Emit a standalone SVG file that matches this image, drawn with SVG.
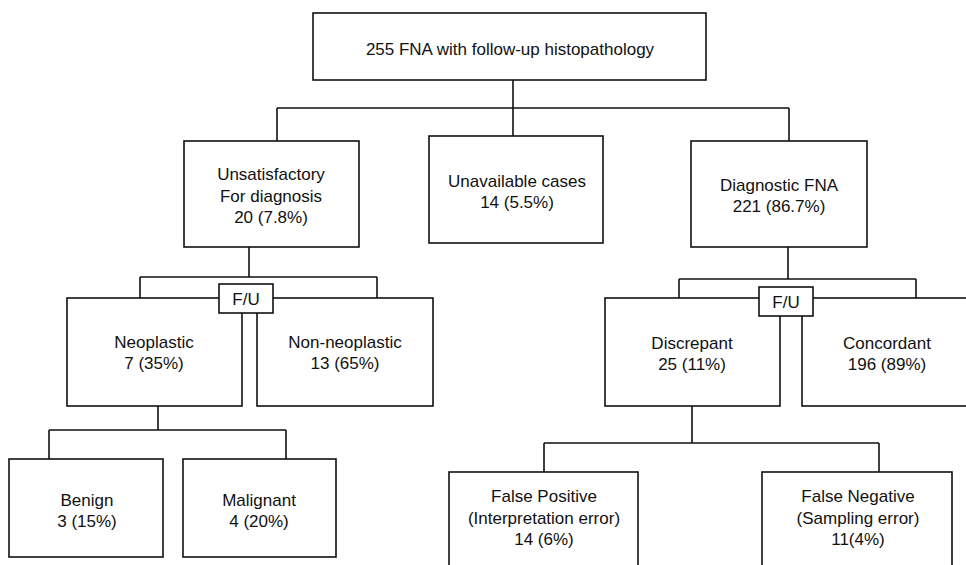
<svg xmlns="http://www.w3.org/2000/svg" width="966" height="565" viewBox="0 0 966 565">
<style>
  .box { fill: #ffffff; stroke: #111111; stroke-width: 1.6; }
  .conn { fill: none; stroke: #111111; stroke-width: 1.6; }
  text { font-family: "Liberation Sans", Arial, sans-serif; font-size: 17px; fill: #111111; text-anchor: middle; }
</style>
<rect x="0" y="0" width="966" height="565" fill="#ffffff"/>
<g id="connectors">
  <path class="conn" d="M513,80 V108 M277,108 H789 M277,108 V141 M513,108 V136 M789,108 V141"/>
  <path class="conn" d="M249,247 V277 M140,277 H377 M140,277 V298 M377,277 V298"/>
  <path class="conn" d="M788,247 V279 M679,279 H916 M679,279 V298 M916,279 V298"/>
  <path class="conn" d="M158,406 V430 M49,430 H286 M49,430 V459 M286,430 V459"/>
  <path class="conn" d="M692,406 V443 M544,443 H879 M544,443 V472 M879,443 V472"/>
</g>
<g id="root">
  <rect class="box" x="313" y="13" width="393" height="67"/>
  <text x="510" y="55">255 FNA with follow-up histopathology</text>
</g>
<g id="unsatisfactory">
  <rect class="box" x="184" y="141" width="175" height="106"/>
  <text x="271" y="180">Unsatisfactory</text>
  <text x="271" y="202">For diagnosis</text>
  <text x="271" y="223">20 (7.8%)</text>
</g>
<g id="unavailable">
  <rect class="box" x="429" y="136" width="174" height="107"/>
  <text x="517" y="187">Unavailable cases</text>
  <text x="517" y="208">14 (5.5%)</text>
</g>
<g id="diagnostic">
  <rect class="box" x="691" y="141" width="176" height="106"/>
  <text x="779" y="191">Diagnostic FNA</text>
  <text x="779" y="212">221 (86.7%)</text>
</g>
<g id="neoplastic">
  <rect class="box" x="67" y="298" width="175" height="108"/>
  <text x="154" y="348">Neoplastic</text>
  <text x="154" y="369">7 (35%)</text>
</g>
<g id="non-neoplastic">
  <rect class="box" x="257" y="298" width="176" height="108"/>
  <text x="345" y="348">Non-neoplastic</text>
  <text x="345" y="369">13 (65%)</text>
</g>
<g id="discrepant">
  <rect class="box" x="605" y="298" width="175" height="108"/>
  <text x="692" y="349">Discrepant</text>
  <text x="692" y="370">25 (11%)</text>
</g>
<g id="concordant">
  <rect class="box" x="802" y="298" width="175" height="108"/>
  <text x="887" y="349">Concordant</text>
  <text x="887" y="370">196 (89%)</text>
</g>
<g id="fu-left">
  <rect class="box" x="219" y="284" width="54" height="29"/>
  <text x="246" y="305">F/U</text>
</g>
<g id="fu-right">
  <rect class="box" x="759" y="287" width="54" height="29"/>
  <text x="786" y="308">F/U</text>
</g>
<g id="benign">
  <rect class="box" x="9" y="459" width="154" height="98"/>
  <text x="87" y="506">Benign</text>
  <text x="87" y="527">3 (15%)</text>
</g>
<g id="malignant">
  <rect class="box" x="183" y="459" width="153" height="98"/>
  <text x="259" y="506">Malignant</text>
  <text x="259" y="527">4 (20%)</text>
</g>
<g id="false-positive">
  <rect class="box" x="449" y="472" width="189" height="110"/>
  <text x="544" y="502">False Positive</text>
  <text x="544" y="524">(Interpretation error)</text>
  <text x="544" y="545">14 (6%)</text>
</g>
<g id="false-negative">
  <rect class="box" x="762" y="472" width="190" height="110"/>
  <text x="858" y="502">False Negative</text>
  <text x="858" y="524">(Sampling error)</text>
  <text x="858" y="545">11(4%)</text>
</g>
</svg>
